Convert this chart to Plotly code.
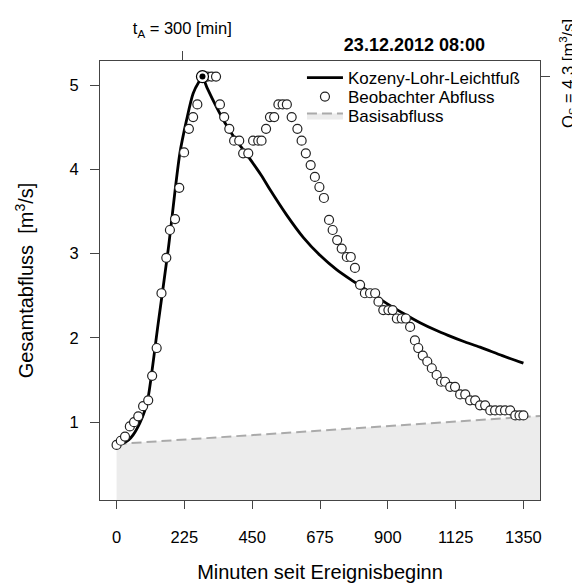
import plotly.graph_objs as go

# observed discharge (minutes since event start, m3/s)
obs_t = [0, 14, 28, 44, 58, 72, 88, 105, 118, 133, 149, 165, 177, 194, 208, 224, 240, 254, 268,
         285, 301, 315, 330, 343, 357, 374, 390, 407, 420, 437, 453, 470, 481, 496, 509, 523,
         537, 551, 565, 581, 600, 614, 628, 644, 658, 673, 688, 705, 717, 732, 747, 764, 777,
         791, 808, 824, 841, 858, 869, 885, 902, 916, 930, 946, 960, 974, 990, 1001, 1016,
         1031, 1046, 1062, 1077, 1090, 1107, 1123, 1140, 1157, 1173, 1190, 1206, 1223, 1240,
         1256, 1273, 1289, 1306, 1323, 1337, 1350]
obs_q = [0.73, 0.78, 0.83, 0.95, 1.00, 1.07, 1.19, 1.26, 1.55, 1.88, 2.53, 2.95, 3.28, 3.41, 3.78,
         4.20, 4.48, 4.62, 4.77, 5.10, 5.10, 5.10, 5.10, 4.77, 4.62, 4.48, 4.34, 4.34, 4.19, 4.19,
         4.34, 4.34, 4.34, 4.48, 4.62, 4.62, 4.77, 4.77, 4.77, 4.62, 4.48, 4.34, 4.19, 4.05,
         3.91, 3.79, 3.66, 3.40, 3.28, 3.16, 3.06, 2.96, 2.96, 2.83, 2.63, 2.53, 2.53, 2.53,
         2.43, 2.33, 2.33, 2.33, 2.23, 2.23, 2.23, 2.13, 1.97, 1.88, 1.79, 1.72, 1.64, 1.56,
         1.48, 1.48, 1.42, 1.42, 1.33, 1.33, 1.26, 1.26, 1.20, 1.20, 1.14, 1.14, 1.14, 1.14,
         1.14, 1.08, 1.08, 1.08]

# Kozeny-Lohr-Leichtfuss model curve
mod_t = [22, 40, 55, 77, 94, 105, 138, 171, 210, 232, 254, 272, 285, 300, 330, 360, 390, 437,
         480, 509, 564, 620, 675, 730, 786, 841, 896, 952, 1007, 1060, 1100, 1150, 1206, 1280,
         1350]
mod_q = [0.75, 0.79, 0.85, 0.99, 1.14, 1.30, 2.17, 3.04, 4.19, 4.58, 4.90, 5.03, 5.09, 4.97,
         4.75, 4.55, 4.38, 4.15, 3.93, 3.76, 3.46, 3.19, 2.98, 2.81, 2.67, 2.54, 2.41, 2.29,
         2.18, 2.09, 2.03, 1.96, 1.89, 1.79, 1.70]

# base flow
base_t = [0, 1405]
base_q = [0.74, 1.075]

peak_t = [285]
peak_q = [5.10]

x_ticks = [0, 225, 450, 675, 900, 1125, 1350]
y_ticks = [1, 2, 3, 4, 5]

FONT = "Liberation Sans, Arial, sans-serif"
AX = '#444444'
x_range = [-55, 1405]
y_range = [0.077, 5.285]

# the page body adds an 8px offset, so the figure is 8px smaller than the window
W, H = 572, 575

fig = go.Figure()

fig.add_trace(go.Scatter(
    x=base_t, y=base_q, mode='lines', fill='tozeroy', fillcolor='#ececec',
    line=dict(color='#aaaaaa', width=2, dash='10px,5px'),
    name='Basisabfluss', legend='legend3'
))
fig.add_trace(go.Scatter(
    x=mod_t, y=mod_q, mode='lines', line=dict(color='black', width=2.8, shape='spline', smoothing=0.8),
    name='Kozeny-Lohr-Leichtfuß', legend='legend'
))
fig.add_trace(go.Scatter(
    x=obs_t, y=obs_q, mode='markers',
    marker=dict(symbol='circle', size=9, color='white', line=dict(color='#222222', width=1.2)),
    name='Beobachter Abfluss', legend='legend2'
))
# peak marker on the secondary axes (same ranges)
fig.add_trace(go.Scatter(
    x=peak_t, y=peak_q, mode='markers', xaxis='x2', yaxis='y2', showlegend=False,
    marker=dict(symbol='circle', size=12, color='white', line=dict(color='black', width=1.2))
))
fig.add_trace(go.Scatter(
    x=peak_t, y=peak_q, mode='markers', xaxis='x2', yaxis='y2', showlegend=False,
    marker=dict(symbol='circle', size=6, color='black')
))

leg = dict(xanchor='left', yanchor='middle', x=0.459, bgcolor='rgba(0,0,0,0)',
           borderwidth=0, itemwidth=36, font=dict(family=FONT, size=17, color='black'))

fig.update_layout(
    width=W, height=H,
    margin=dict(l=92, r=40, t=53, b=83),
    plot_bgcolor='white', paper_bgcolor='white',
    font=dict(family=FONT, size=16.5, color='black'),
    title=dict(text='<b>23.12.2012 08:00</b>', x=477 / W, xanchor='right',
               y=1 - 37 / H, yanchor='middle', font=dict(size=18, family=FONT)),
    xaxis=dict(range=x_range, tickvals=x_ticks, ticks='outside', ticklen=8, tickcolor=AX,
               showgrid=False, zeroline=False, showline=True, linecolor=AX, mirror=True,
               ticklabelstandoff=14, automargin=False,
               title=dict(text='Minuten seit Ereignisbeginn', standoff=22)),
    yaxis=dict(range=y_range, tickvals=y_ticks, ticks='outside', ticklen=9, tickcolor=AX,
               showgrid=False, zeroline=False, showline=True, linecolor=AX, mirror=True,
               ticklabelstandoff=8, automargin=False,
               title=dict(text='Gesamtabfluss  [m<sup>3</sup>/s]', standoff=30)),
    xaxis2=dict(range=x_range, overlaying='x', side='top', tickvals=[218],
                ticktext=['t<sub>A</sub> = 300 [min]'], ticks='outside', ticklen=9,
                tickcolor=AX, showgrid=False, zeroline=False, showline=False,
                ticklabelstandoff=10, automargin=False),
    yaxis2=dict(range=y_range, overlaying='y', side='right', tickvals=[5.107],
                ticktext=['Q<sub>S</sub> = 4.3 [m<sup>3</sup>/s]'], ticks='outside', ticklen=9,
                tickcolor=AX, tickangle=-90, showgrid=False, zeroline=False, showline=False,
                ticklabelstandoff=4, automargin=False),
    legend=dict(leg, y=1 - 17 / 439),
    legend2=dict(leg, y=1 - 36 / 439),
    legend3=dict(leg, y=1 - 55 / 439),
)

fig.write_html("out.html")
